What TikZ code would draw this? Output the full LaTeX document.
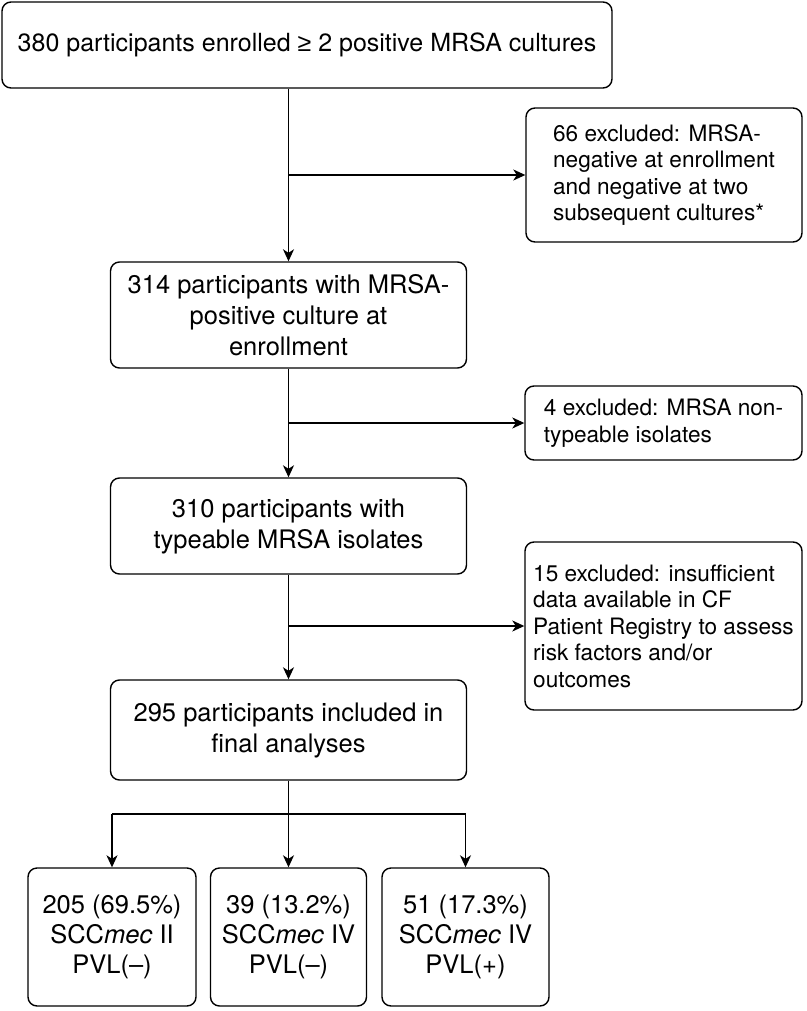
\documentclass[tikz,border=0pt]{standalone}
\usepackage{fontspec}
\setmainfont{TeX Gyre Heros}
\newfontfamily\symfont{Liberation Sans}
\usetikzlibrary{arrows.meta}
\begin{document}
\begin{tikzpicture}[x=1pt,y=-1pt,line width=1.4pt,
  box/.style={draw, rounded corners=9pt, font=\fontsize{25.5}{31}\selectfont, align=center, inner sep=0pt},
  sbox/.style={box, align=left, font=\fontsize{22.6}{26.5}\selectfont},
  res/.style={box, font=\fontsize{25.5}{30}\selectfont},
  arr/.style={-{Stealth[length=12pt,width=11pt,inset=3.5pt]}}]
\path[use as bounding box] (0,0) rectangle (806,1011);

\node[box, minimum width=610pt, minimum height=86pt, font=\fontsize{25}{30}\selectfont] (n380) at (307,45) {380 participants enrolled {\symfont ≥} 2 positive MRSA cultures};
\node[box, minimum width=356pt, minimum height=106pt] (n314) at (288.5,315) {314 participants with MRSA-\\positive culture at\\enrollment};
\node[sbox, minimum width=276pt, minimum height=134pt] (x66) at (664,175) {66 excluded: MRSA-\\negative at enrollment\\and negative at two\\subsequent cultures*};
\node[sbox, minimum width=277pt, minimum height=74pt] (x4) at (663.5,423) {4 excluded: MRSA non-\\typeable isolates};
\node[box, minimum width=356pt, minimum height=96pt] (n310) at (288.5,526) {310 participants with\\typeable MRSA isolates};
\node[sbox, minimum width=277pt, minimum height=168pt] (x15) at (663.5,626) {15 excluded: insufficient\\data available in CF\\Patient Registry to assess\\risk factors and/or\\outcomes};
\node[box, minimum width=356pt, minimum height=100pt] (n295) at (288.5,730) {295 participants included in\\final analyses};
\node[res, minimum width=168pt, minimum height=138pt] (n205) at (112,937) {205 (69.5\%)\\SCC\textit{mec} II\\PVL(–)};
\node[res, minimum width=156pt, minimum height=138pt] (n39) at (288.5,937) {39 (13.2\%)\\SCC\textit{mec} IV\\PVL(–)};
\node[res, minimum width=167pt, minimum height=138pt] (n51) at (465.5,937) {51 (17.3\%)\\SCC\textit{mec} IV\\PVL(+)};

\draw[arr] (n380.south -| n314.north) -- (n314.north);
\draw[arr] (n314.north |- x66.west) -- (x66.west);
\draw[arr] (n314.south) -- (n310.north);
\draw[arr] (n310.north |- x4.west) -- (x4.west);
\draw[arr] (n310.south) -- (n295.north);
\draw[arr] (n295.north |- x15.west) -- (x15.west);

\coordinate (split) at (288.5,814);
\draw (n295.south) -- (split);
\draw (split -| n205.north) -- (split -| n51.north);
\draw[arr] (split -| n205.north) -- (n205.north);
\draw[arr] (split) -- (n39.north);
\draw[arr] (split -| n51.north) -- (n51.north);
\end{tikzpicture}
\end{document}
